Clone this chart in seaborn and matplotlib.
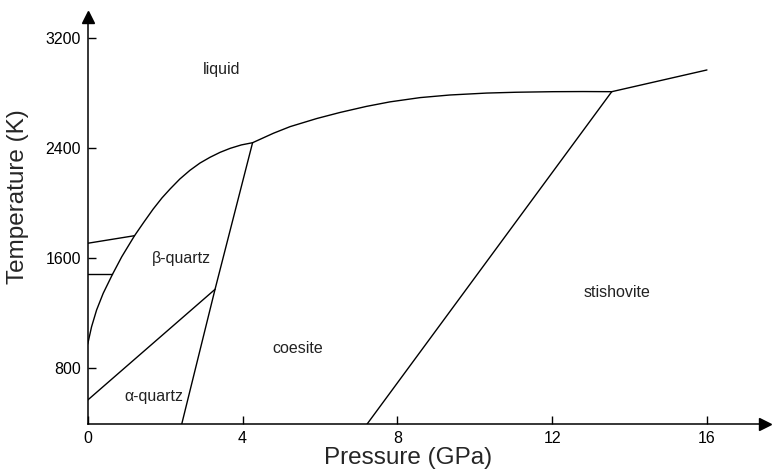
import pandas as pd
import matplotlib.pyplot as plt
import seaborn as sns

# Phase boundaries of SiO2 (P in GPa, T in K)
liquidus_low_p = [0, 0.10, 0.23, 0.40, 0.64, 0.88, 1.21, 1.45, 1.69, 1.92, 2.13,
                  2.38, 2.64, 2.90, 3.16, 3.42, 3.68, 3.97, 4.26]
liquidus_low_t = [972, 1098, 1220, 1341, 1479, 1607, 1760, 1858, 1953, 2035, 2100,
                  2172, 2235, 2288, 2330, 2366, 2395, 2420, 2436]
liquidus_high_p = [4.26, 4.8, 5.23, 5.92, 6.52, 7.2, 7.81, 8.59, 9.36, 10.31, 11.08,
                   12.03, 12.80, 13.54]
liquidus_high_t = [2436, 2505, 2553, 2612, 2656, 2700, 2733, 2764, 2783, 2797, 2803,
                   2807, 2808, 2807]
stish_liquid_p = [13.54, 16.0]
stish_liquid_t = [2807, 2965]
cristobalite_p = [0, 1.21]
cristobalite_t = [1705, 1760]
tridymite_p = [0, 0.64]
tridymite_t = [1479, 1479]
alpha_beta_p = [0, 3.29]
alpha_beta_t = [565, 1370]
quartz_coesite_p = [2.43, 3.29, 4.26]
quartz_coesite_t = [391, 1370, 2436]
coesite_stish_p = [7.22, 13.54]
coesite_stish_t = [391, 2807]

phase_names = ["liquid", "β-quartz", "α-quartz", "coesite", "stishovite"]
phase_p = [3.47, 2.43, 1.71, 5.43, 13.68]
phase_t = [2965, 1596, 589, 943, 1350]

x_ticks = [0, 4, 8, 12, 16]
y_ticks = [800, 1600, 2400, 3200]

boundaries = {
    "liquidus_low": (liquidus_low_p, liquidus_low_t),
    "liquidus_high": (liquidus_high_p, liquidus_high_t),
    "stish_liquid": (stish_liquid_p, stish_liquid_t),
    "cristobalite": (cristobalite_p, cristobalite_t),
    "tridymite": (tridymite_p, tridymite_t),
    "alpha_beta": (alpha_beta_p, alpha_beta_t),
    "quartz_coesite": (quartz_coesite_p, quartz_coesite_t),
    "coesite_stish": (coesite_stish_p, coesite_stish_t),
}
rows = []
for name, (ps, ts) in boundaries.items():
    for p, t in zip(ps, ts):
        rows.append({"boundary": name, "P": p, "T": t})
df = pd.DataFrame(rows)

sns.set_style("ticks")
plt.rcParams["font.family"] = ["Liberation Sans", "DejaVu Sans"]

fig = plt.figure(figsize=(7.72, 4.73), dpi=100)
ax = fig.add_axes([87.7 / 772, 49 / 473, (765 - 87.7) / 772, (424 - 17) / 473])

# one line per phase boundary
sns.lineplot(data=df, x="P", y="T", units="boundary", estimator=None,
             sort=False, color="black", linewidth=1.0, ax=ax)

for name, p, t in zip(phase_names, phase_p, phase_t):
    ax.text(p, t, name, ha="center", va="center", fontsize=11.5, color="#222222")

ax.set_xlim(0, 17.5)
ax.set_ylim(391, 3350)
ax.set_xticks(x_ticks)
ax.set_yticks(y_ticks)
ax.tick_params(direction="in", length=6, width=1, labelsize=11.5, pad=5,
               colors="black")

sns.despine(ax=ax)
for side in ["left", "bottom"]:
    ax.spines[side].set_linewidth(1.1)
    ax.spines[side].set_color("black")

# arrow heads at the ends of the axes
ax.plot(1, 0, ">k", ms=8, transform=ax.transAxes, clip_on=False)
ax.plot(0, 1, "^k", ms=8, transform=ax.transAxes, clip_on=False)

ax.set_xlabel("Pressure (GPa)", fontsize=17.5)
ax.set_ylabel("Temperature (K)", fontsize=17.5)
ax.xaxis.set_label_coords(0.473, -0.057)
ax.yaxis.set_label_coords(-0.087, 0.558)

fig.savefig("out.png", dpi=100)
